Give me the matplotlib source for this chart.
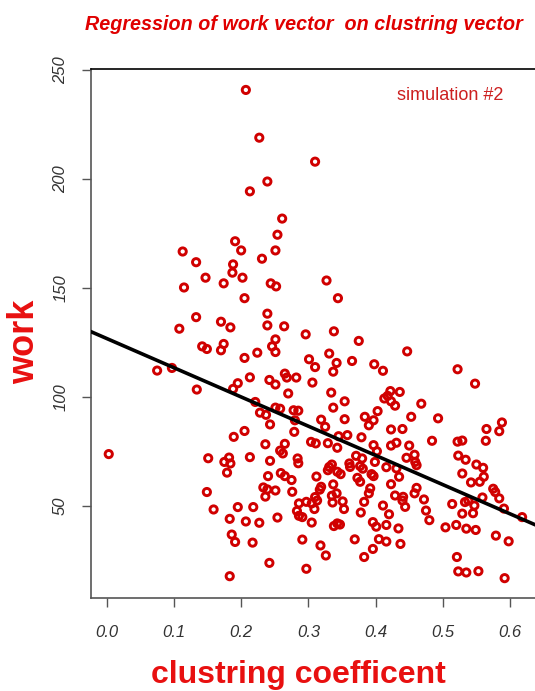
import numpy as np
import matplotlib.pyplot as plt

# clustering coefficient (x) and work (y) for each node
clustring = [
    # top part
    0.207, 0.227, 0.239, 0.213, 0.261, 0.254, 0.191, 0.113, 0.200, 0.251, 0.231, 0.133,
    0.188, 0.187, 0.147, 0.202, 0.115, 0.174, 0.244, 0.252, 0.205, 0.133, 0.239, 0.170,
    0.184, 0.108, 0.239, 0.264, 0.296, 0.251, 0.310, 0.327, 0.344, 0.338, 0.375,
    # 92..125
    0.142, 0.149, 0.174, 0.170, 0.246, 0.251, 0.224, 0.205, 0.331, 0.301, 0.310, 0.342,
    0.337, 0.075, 0.097, 0.265, 0.268, 0.282, 0.213, 0.242, 0.251, 0.195, 0.306, 0.134,
    0.188, 0.270, 0.334, 0.221, 0.251, 0.258, 0.278, 0.285, 0.337, 0.447, 0.365, 0.398,
    0.411, 0.522, 0.548, 0.422, 0.418, 0.413, 0.423, 0.429, 0.436, 0.468, 0.354, 0.228,
    0.237,
    # 69..94
    0.403, 0.384, 0.397, 0.390, 0.453, 0.493, 0.319, 0.354, 0.325, 0.279, 0.423, 0.440,
    0.565, 0.588, 0.584, 0.345, 0.358, 0.379, 0.484, 0.522, 0.529, 0.564, 0.265, 0.304,
    0.311, 0.329, 0.343, 0.397, 0.423, 0.431, 0.450, 0.243, 0.280, 0.189, 0.205, 0.236,
    0.003, 0.262, 0.258, 0.402, 0.371, 0.380, 0.446, 0.458, 0.523, 0.534, 0.284, 0.285,
    0.151, 0.175, 0.182, 0.184, 0.213, 0.243,
    # 42..70
    0.179, 0.240, 0.259, 0.265, 0.275, 0.233, 0.239, 0.236, 0.251, 0.276, 0.149, 0.159,
    0.195, 0.218, 0.399, 0.416, 0.431, 0.435, 0.377, 0.381, 0.331, 0.329, 0.335, 0.361,
    0.362, 0.394, 0.397, 0.459, 0.461, 0.529, 0.550, 0.560, 0.555, 0.561, 0.542, 0.575,
    0.578, 0.584, 0.312, 0.319, 0.317, 0.337, 0.348, 0.343, 0.373, 0.377, 0.423, 0.461,
    0.458, 0.342, 0.310, 0.313, 0.335, 0.336, 0.390, 0.392, 0.429, 0.441, 0.440, 0.444,
    0.472, 0.351, 0.353, 0.383, 0.286, 0.297, 0.283, 0.286, 0.291, 0.305, 0.309, 0.411,
    0.514, 0.533, 0.538, 0.547, 0.529, 0.545, 0.591, 0.559, 0.305,
    # bottom part
    0.475, 0.480, 0.618, 0.378, 0.420, 0.338, 0.343, 0.347, 0.396, 0.401, 0.416, 0.434,
    0.504, 0.520, 0.535, 0.549, 0.579, 0.598, 0.291, 0.318, 0.326, 0.369, 0.405, 0.416,
    0.437, 0.396, 0.383, 0.521, 0.297, 0.523, 0.535, 0.553, 0.592, 0.183, 0.207, 0.227,
    0.254, 0.186, 0.191, 0.217, 0.242, 0.183,
]
work = [
    240.8, 218.9, 198.8, 194.3, 181.8, 174.4, 171.4, 166.7, 167.2, 167.2, 163.4, 161.8,
    160.8, 157.0, 154.7, 154.7, 150.2, 152.1, 152.1, 150.7, 145.3, 136.6, 138.2, 134.5,
    131.9, 131.3, 132.8, 132.4, 128.7, 126.4, 207.9, 153.4, 145.3, 130.1, 125.7,
    123.2, 122.0, 124.3, 121.4, 123.2, 120.6, 120.3, 117.9, 119.9, 117.3, 113.7, 115.6,
    111.6, 112.1, 113.3, 110.7, 108.9, 108.9, 109.0, 107.8, 105.7, 106.3, 106.6, 103.4,
    103.7, 101.6, 102.0, 97.7, 95.1, 94.6, 93.9, 93.7, 95.1, 120.9, 116.5, 115.0,
    112.0, 112.7, 106.1, 102.7, 100.5, 99.3, 98.0, 96.0, 102.3, 96.9, 98.0, 92.8,
    91.8,
    93.5, 90.9, 89.3, 87.0, 90.9, 90.2, 89.6, 89.8, 86.3, 84.0, 85.1, 85.3,
    85.3, 88.3, 84.3, 82.0, 82.5, 81.5, 79.9, 79.5, 80.0, 79.9, 78.5, 79.4,
    78.7, 78.8, 76.7, 77.9, 77.7, 79.0, 77.7, 87.4, 89.3, 81.7, 84.4, 78.3,
    73.8, 74.1, 75.4, 75.1, 73.0, 71.8, 72.1, 73.5, 73.1, 71.2, 71.8, 69.6,
    71.9, 70.2, 72.2, 69.5, 72.4, 70.7,
    65.3, 63.7, 65.1, 63.7, 61.9, 58.5, 57.6, 54.3, 57.1, 56.5, 56.4, 48.4,
    49.5, 49.5, 70.2, 67.8, 67.2, 63.4, 68.3, 67.1, 67.9, 66.4, 69.0, 69.5,
    67.9, 64.6, 63.7, 70.2, 68.7, 64.9, 69.0, 67.5, 61.1, 63.4, 60.8, 57.9,
    56.4, 53.5, 63.5, 58.8, 57.5, 59.9, 64.6, 65.7, 62.9, 61.1, 60.0, 58.3,
    55.8, 55.8, 54.1, 52.5, 54.7, 51.6, 55.8, 58.1, 54.8, 54.2, 52.5, 49.6,
    53.0, 52.1, 48.6, 51.9, 51.2, 51.9, 47.7, 45.5, 44.9, 51.2, 48.6, 50.2,
    50.9, 51.8, 52.5, 50.2, 46.5, 46.7, 48.8, 53.9, 42.4,
    47.9, 43.5, 44.9, 47.0, 46.2, 40.8, 42.0, 41.5, 42.6, 40.5, 41.3, 39.7,
    40.2, 41.3, 39.6, 39.0, 36.4, 33.8, 34.6, 31.9, 27.3, 34.7, 34.8, 33.7,
    32.6, 30.3, 26.6, 26.6, 21.2, 20.0, 19.5, 20.1, 16.9, 44.1, 42.9, 42.3,
    44.7, 36.9, 33.5, 33.2, 23.9, 17.8,
]

# fitted line as drawn on the chart
intercept = 126.8
slope = -134.0

x_ticks = [0.0, 0.1, 0.2, 0.3, 0.4, 0.5, 0.6]
y_ticks = [50, 100, 150, 200, 250]

plt.rcParams['font.family'] = ['Liberation Sans', 'DejaVu Sans']

fig = plt.figure(figsize=(5.35, 6.91), dpi=100)
ax = fig.add_axes([91 / 535, 93 / 691, 444 / 535, 529 / 691])

ax.scatter(clustring, work, s=27, facecolors='none', edgecolors='#d00000',
           linewidths=2.1, zorder=2)
xs = np.array([-0.1, 0.7])
ax.plot(xs, intercept + slope * xs, color='black', lw=2.6, zorder=3)

ax.set_xlim(-0.0234, 0.6372)
ax.set_ylim(7.8, 250.4)

ax.spines['right'].set_visible(False)
ax.spines['top'].set_color('black')
for side in ['left', 'bottom']:
    ax.spines[side].set_color('#555555')
for side in ['left', 'bottom', 'top']:
    ax.spines[side].set_linewidth(1.2)

ax.set_xticks(x_ticks, [f'{v:.1f}' for v in x_ticks], fontstyle='italic')
ax.set_yticks(y_ticks, [str(v) for v in y_ticks], fontstyle='italic',
              rotation=90, va='center')
ax.tick_params(axis='both', direction='out', length=6.5, width=1, color='#555555',
               labelsize=12, labelcolor='#333333')
ax.tick_params(axis='x', pad=13)
ax.tick_params(axis='y', pad=10)

fig.text(304 / 535, 1 - 25 / 691, 'Regression of work vector  on clustring vector',
         ha='center', va='center', color='#e00000', fontsize=14.2,
         fontweight='bold', fontstyle='italic')
fig.text(450 / 535, 1 - 96 / 691, 'simulation #2', ha='center', va='center',
         color='#cc1f1f', fontsize=13)
fig.text(25 / 535, 1 - 342 / 691, 'work', rotation=90, ha='center', va='center',
         color='#e81010', fontsize=26, fontweight='bold')
fig.text(298 / 535, 1 - 675 / 691, 'clustring coefficent', ha='center', va='center',
         color='#e81010', fontsize=23, fontweight='bold')

fig.savefig('out.png', dpi=100)
